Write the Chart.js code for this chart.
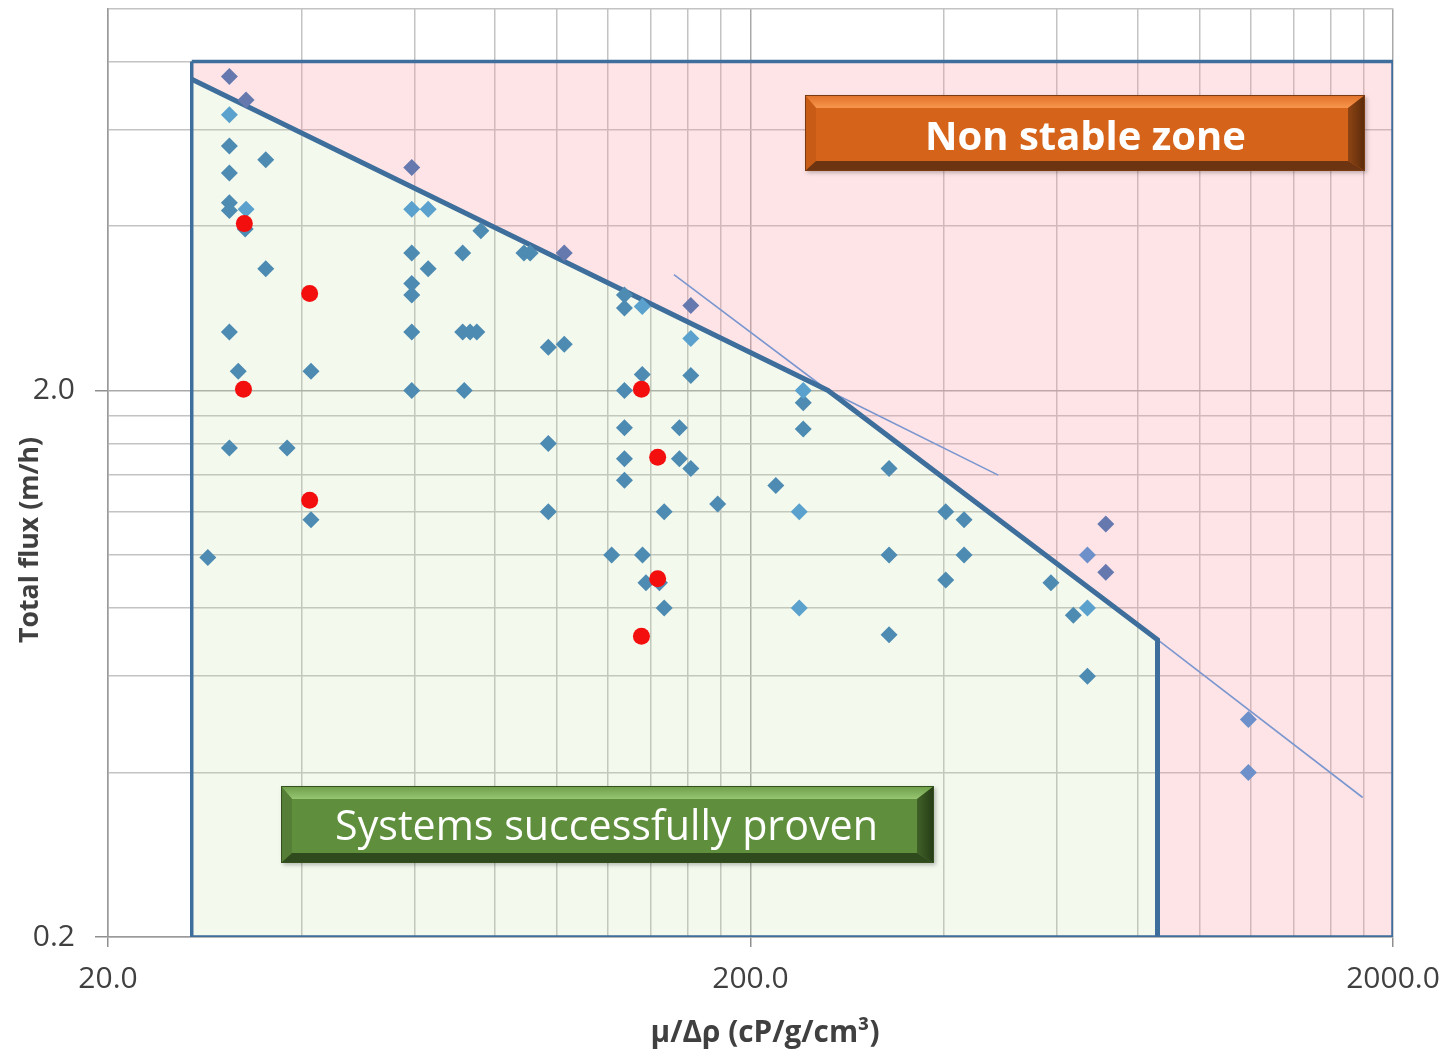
<!DOCTYPE html>
<html>
<head>
<meta charset="utf-8">
<script src="https://cdn.jsdelivr.net/npm/chart.js@4.4.1/dist/chart.umd.min.js"></script>
<style>
  html, body { margin: 0; padding: 0; background: #ffffff; }
  #wrap { width: 1445px; height: 1055px; }
</style>
</head>
<body>
<div id="wrap"><canvas id="chart" width="1445" height="1055"></canvas></div>
<script>
// Grid and tick values (log-log axes)
const xGridValues = [20, 40, 60, 80, 100, 120, 140, 160, 180, 200, 400, 600, 800, 1000, 1200, 1400, 1600, 1800, 2000];
const yGridValues = [0.2, 0.4, 0.6, 0.8, 1.0, 1.2, 1.4, 1.6, 1.8, 2, 4, 6, 8, 10];
const xTickValues = [20, 200, 2000];
const xTickLabels = ['20.0', '200.0', '2000.0'];
const yTickValues = [0.2, 2];
const yTickLabels = ['0.2', '2.0'];

// Field systems (blue diamonds)
const systemsX = [30.9, 35.2, 30.9, 30.9, 30.9, 32.7, 59.4, 63.0, 35.2, 59.4, 59.4, 76.1, 71.3, 88.8, 90.8, 59.4, 71.3, 73.2, 75.0, 96.9,
                  102.6, 127.3, 127.3, 135.7, 161.5, 59.4, 71.7, 127.3, 30.9, 31.9, 41.4, 30.9, 38.0, 96.9, 41.4, 96.9, 28.6, 127.3, 155.0, 127.3,
                  155.0, 161.5, 127.3, 219, 146.8, 177.8, 241.6, 241.6, 328.6, 402.6, 430, 328.6, 430, 402.6, 328.6, 121.6, 135.8, 137.5, 144.3, 146.8,
                  587, 636, 669, 30.9, 32.8, 59.4, 102.6, 161.5, 714.5, 714.5];
const systemsY = [5.60, 5.29, 5.00, 4.41, 4.27, 3.95, 3.57, 3.34, 3.34, 3.14, 2.99, 3.92, 3.57, 3.57, 3.57, 2.56, 2.56, 2.56, 2.56, 2.40,
                  2.43, 2.99, 2.83, 2.14, 2.13, 2.00, 2.00, 2.00, 2.56, 2.17, 2.17, 1.57, 1.57, 1.60, 1.16, 1.20, 0.99, 1.71, 1.71, 1.50,
                  1.50, 1.44, 1.37, 1.34, 1.20, 1.24, 1.90, 1.70, 1.44, 1.20, 1.16, 1.00, 1.00, 0.90, 0.715, 1.00, 1.00, 0.89, 0.89, 0.80,
                  0.89, 0.776, 0.60, 7.51, 6.80, 5.12, 3.57, 2.86, 1.14, 0.93];

// Second group of systems (lighter diamonds)
const pilotX = [30.9, 32.8, 59.4, 63.0, 135.7, 161.5, 241.6, 238.2, 238.2, 669, 669, 1191, 1191];
const pilotY = [6.39, 4.29, 4.29, 4.29, 2.85, 2.49, 2.00, 1.20, 0.80, 0.80, 1.00, 0.50, 0.40];

// Highlighted systems (red circles)
const highlightX = [32.6, 41.2, 32.5, 41.2, 135.3, 143.4, 143.4, 135.3];
const highlightY = [4.04, 3.01, 2.01, 1.26, 2.01, 1.51, 0.905, 0.71];

// Stability limit and zone outlines
const limitX = [27, 264, 860, 860];
const limitY = [7.42, 2.0, 0.70, 0.2];
const frameX = [27, 2000, 2000, 27, 27];
const frameY = [8, 8, 0.2, 0.2, 8];
const stableZoneX = [27, 264, 860, 860, 27, 27];
const stableZoneY = [7.42, 2.0, 0.70, 0.2, 0.2, 7.42];
const unstableZoneX = [27, 2000, 2000, 860, 860, 264, 27, 27];
const unstableZoneY = [8, 8, 0.2, 0.2, 0.70, 2.0, 7.42, 8];
const trendAX = [152, 264, 486];
const trendAY = [3.26, 2.0, 1.40];
const trendBX = [860, 1794];
const trendBY = [0.70, 0.36];

const pts = (xs, ys) => xs.map((x, i) => ({ x, y: ys[i] }));

// true when a point lies under the stability limit (log-log interpolation)
function inStableZone(p) {
  if (!p) return true;
  if (p.x > limitX[2]) return false;
  for (let i = 0; i < 2; i++) {
    const x0 = limitX[i], x1 = limitX[i + 1];
    if (p.x >= x0 && p.x <= x1) {
      const t = Math.log(p.x / x0) / Math.log(x1 / x0);
      const ly = Math.log(limitY[i]) + t * (Math.log(limitY[i + 1]) - Math.log(limitY[i]));
      return p.y <= Math.exp(ly);
    }
  }
  return true;
}

const LIMIT_BLUE = '#3e6e9b';
const TEXT_GREY = '#404040';

function bevelBox(ctx, x, y, w, h, pal) {
  const bt = 13, bl = 11, br = 17, bb = 10;
  const quad = (p, fill) => {
    ctx.beginPath();
    ctx.moveTo(p[0][0], p[0][1]);
    for (let i = 1; i < p.length; i++) ctx.lineTo(p[i][0], p[i][1]);
    ctx.closePath();
    ctx.fillStyle = fill;
    ctx.fill();
  };
  ctx.save();
  ctx.shadowColor = 'rgba(0,0,0,0.25)';
  ctx.shadowBlur = 4;
  ctx.shadowOffsetX = 2;
  ctx.shadowOffsetY = 2;
  ctx.fillStyle = pal.face;
  ctx.fillRect(x, y, w, h);
  ctx.shadowColor = 'transparent';
  const gTop = ctx.createLinearGradient(0, y, 0, y + bt);
  gTop.addColorStop(0, pal.top);
  gTop.addColorStop(1, pal.topHi);
  quad([[x, y], [x + w, y], [x + w - br, y + bt], [x + bl, y + bt]], gTop);
  quad([[x, y], [x + bl, y + bt], [x + bl, y + h - bb], [x, y + h]], pal.left);
  const gR = ctx.createLinearGradient(x + w - br, 0, x + w, 0);
  gR.addColorStop(0, pal.right0);
  gR.addColorStop(1, pal.right1);
  quad([[x + w, y], [x + w, y + h], [x + w - br, y + h - bb], [x + w - br, y + bt]], gR);
  quad([[x, y + h], [x + w, y + h], [x + w - br, y + h - bb], [x + bl, y + h - bb]], pal.bottom);
  ctx.strokeStyle = pal.edge;
  ctx.lineWidth = 1;
  ctx.strokeRect(x + 0.5, y + 0.5, w - 1, h - 1);
  ctx.restore();
}

function fitText(ctx, text, weight, family, targetW) {
  ctx.font = `${weight} 40px ${family}`;
  const size = 40 * targetW / ctx.measureText(text).width;
  ctx.font = `${weight} ${size.toFixed(2)}px ${family}`;
}

const annotations = {
  id: 'annotations',
  afterDraw(chart) {
    const ctx = chart.ctx;
    const fam = "'Open Sans', 'Noto Sans', sans-serif";
    ctx.save();
    // axis titles
    ctx.fillStyle = TEXT_GREY;
    ctx.textAlign = 'center';
    ctx.textBaseline = 'alphabetic';
    fitText(ctx, 'μ/Δρ (cP/g/cm³)', 'bold', fam, 229);
    ctx.fillText('μ/Δρ (cP/g/cm³)', 765, 1042);
    ctx.save();
    ctx.translate(38, 540);
    ctx.rotate(-Math.PI / 2);
    fitText(ctx, 'Total flux (m/h)', 'bold', fam, 206);
    ctx.fillText('Total flux (m/h)', 0, 0);
    ctx.restore();

    // zone labels
    bevelBox(ctx, 805, 95, 560, 76, {
      face: '#d5641a', top: '#e0712a', topHi: '#f7954c', left: '#c85c17',
      right0: '#8e4413', right1: '#5a2b0b', bottom: '#6c3411', edge: '#7a3a12'
    });
    ctx.fillStyle = '#ffffff';
    fitText(ctx, 'Non stable zone', 'bold', fam, 321);
    ctx.fillText('Non stable zone', 1085.5, 150);

    bevelBox(ctx, 281, 786, 653, 77, {
      face: '#5f8f3c', top: '#6c9d47', topHi: '#97c572', left: '#557f36',
      right0: '#3f6127', right1: '#263b16', bottom: '#2f4a1d', edge: '#34501f'
    });
    ctx.fillStyle = '#ffffff';
    fitText(ctx, 'Systems successfully proven', 'normal', fam, 543);
    ctx.fillText('Systems successfully proven', 606.5, 840);
    ctx.restore();
  }
};

const isIn = (list, v) => list.some(t => Math.abs(t - v) < 1e-9);
// the plot frame is fixed by the layout padding, not by label overhang
const noLabelPadding = s => { s.paddingTop = 0; s.paddingBottom = 0; s.paddingLeft = 0; s.paddingRight = 0; };

new Chart(document.getElementById('chart'), {
  type: 'scatter',
  data: {
    datasets: [
      {
        label: 'Highlighted systems',
        data: pts(highlightX, highlightY),
        pointStyle: 'circle',
        pointRadius: 8.5,
        pointBackgroundColor: '#f40f0f',
        pointBorderWidth: 0,
        order: 0
      },
      {
        label: 'Systems (group 2)',
        data: pts(pilotX, pilotY),
        pointStyle: 'rectRot',
        pointRadius: 8.5,
        pointBackgroundColor: c => inStableZone(c.raw) ? '#5aa2cd' : '#6d90ca',
        pointBorderWidth: 0,
        order: 1
      },
      {
        label: 'Systems',
        data: pts(systemsX, systemsY),
        pointStyle: 'rectRot',
        pointRadius: 8.5,
        pointBackgroundColor: c => inStableZone(c.raw) ? '#4e8bb2' : '#6679af',
        pointBorderWidth: 0,
        order: 2
      },
      {
        label: 'Stability limit',
        data: pts(limitX, limitY),
        showLine: true,
        borderColor: LIMIT_BLUE,
        borderWidth: 5,
        pointRadius: 0,
        fill: false,
        order: 3
      },
      {
        label: 'Frame',
        data: pts(frameX, frameY),
        showLine: true,
        borderColor: LIMIT_BLUE,
        borderWidth: 3.5,
        pointRadius: 0,
        fill: false,
        order: 4
      },
      {
        label: 'Trend A',
        data: pts(trendAX, trendAY),
        showLine: true,
        borderColor: '#7b97cf',
        borderWidth: 1.6,
        pointRadius: 0,
        fill: false,
        order: 5
      },
      {
        label: 'Trend B',
        data: pts(trendBX, trendBY),
        showLine: true,
        borderColor: '#7b97cf',
        borderWidth: 1.6,
        pointRadius: 0,
        fill: false,
        order: 6
      },
      {
        label: 'Stable zone',
        data: pts(stableZoneX, stableZoneY),
        showLine: true,
        borderWidth: 0,
        borderColor: 'rgba(0,0,0,0)',
        backgroundColor: 'rgba(190,225,160,0.19)',
        pointRadius: 0,
        fill: 'shape',
        order: 7
      },
      {
        label: 'Non stable zone',
        data: pts(unstableZoneX, unstableZoneY),
        showLine: true,
        borderWidth: 0,
        borderColor: 'rgba(0,0,0,0)',
        backgroundColor: 'rgba(255,158,170,0.28)',
        pointRadius: 0,
        fill: 'shape',
        order: 8
      }
    ]
  },
  options: {
    responsive: false,
    devicePixelRatio: 1,
    animation: false,
    events: [],
    layout: { padding: { top: 7, right: 52, left: 0, bottom: 0 } },
    plugins: {
      legend: { display: false },
      tooltip: { enabled: false },
      title: { display: false }
    },
    scales: {
      x: {
        type: 'logarithmic',
        min: 20,
        max: 2000,
        afterBuildTicks: s => { s.ticks = xGridValues.map(v => ({ value: v })); },
        afterFit: s => { s.height = 118; noLabelPadding(s); },
        ticks: {
          autoSkip: false,
          maxRotation: 0,
          padding: 14,
          color: TEXT_GREY,
          font: { family: "'Open Sans', 'Noto Sans', sans-serif", size: 30 },
          callback: v => { const i = xTickValues.findIndex(t => Math.abs(t - v) < 1e-9); return i >= 0 ? xTickLabels[i] : ''; }
        },
        grid: {
          color: c => (c.tick && isIn(xTickValues, c.tick.value)) ? '#a9a9a9' : '#c3c3c3',
          lineWidth: 1.5,
          tickLength: 10,
          tickColor: c => (c.tick && isIn(xTickValues, c.tick.value)) ? '#8f8f8f' : 'rgba(0,0,0,0)'
        },
        border: { display: true, color: '#9a9a9a', width: 1.5 },
        title: { display: false }
      },
      y: {
        type: 'logarithmic',
        min: 0.2,
        max: 10,
        afterBuildTicks: s => { s.ticks = yGridValues.map(v => ({ value: v })); },
        afterFit: s => { s.width = 108; noLabelPadding(s); },
        ticks: {
          autoSkip: false,
          padding: 20,
          color: TEXT_GREY,
          font: { family: "'Open Sans', 'Noto Sans', sans-serif", size: 30 },
          callback: v => { const i = yTickValues.findIndex(t => Math.abs(t - v) < 1e-9); return i >= 0 ? yTickLabels[i] : ''; }
        },
        grid: {
          color: c => (c.tick && isIn(yTickValues, c.tick.value)) ? '#a9a9a9' : '#c3c3c3',
          lineWidth: 1.5,
          tickLength: 13,
          tickColor: c => (c.tick && isIn(yTickValues, c.tick.value)) ? '#8f8f8f' : 'rgba(0,0,0,0)'
        },
        border: { display: true, color: '#9a9a9a', width: 1.5 },
        title: { display: false }
      }
    }
  },
  plugins: [annotations]
});
</script>
</body>
</html>
